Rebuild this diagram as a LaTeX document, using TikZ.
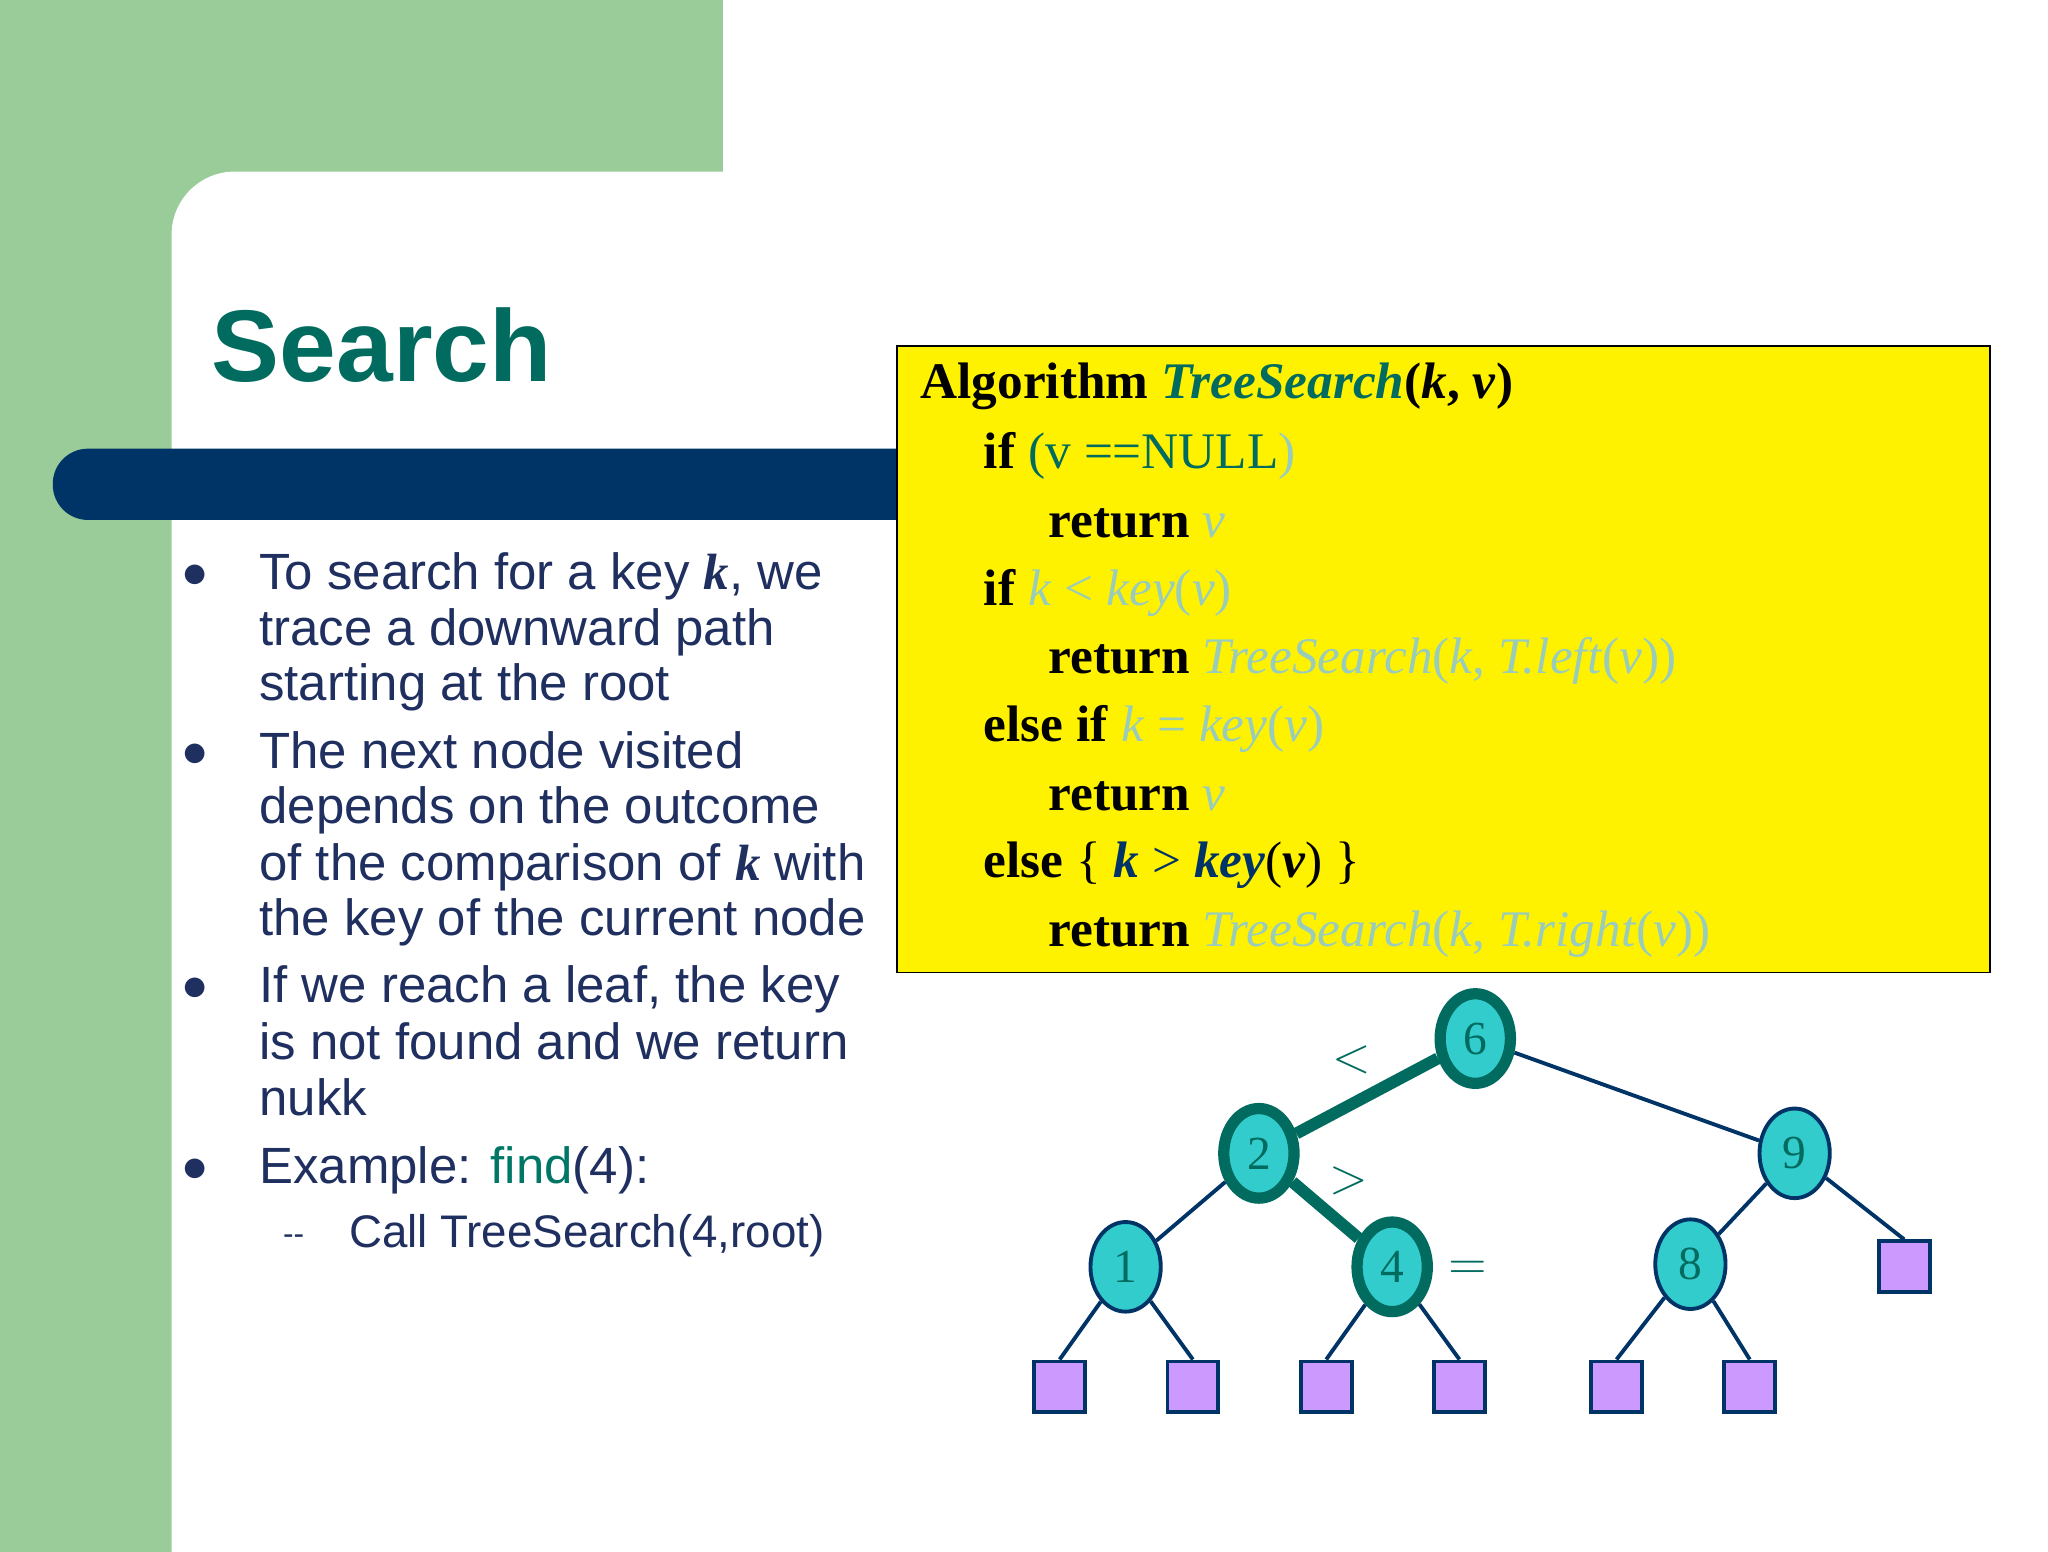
\documentclass[tikz,border=0pt]{standalone}
\usepackage{fontspec}
\setmainfont{Liberation Serif}
\newfontfamily\arialf{Liberation Sans}
\usetikzlibrary{shapes.geometric}
\definecolor{bggreen}{HTML}{99CC99}
\definecolor{navy}{HTML}{003366}
\definecolor{teal}{HTML}{006B5E}
\definecolor{txtblue}{HTML}{1F2F5F}
\definecolor{faded}{HTML}{99CCBB}
\definecolor{tealg}{HTML}{007766}
\definecolor{nodefill}{HTML}{33CCCC}
\definecolor{leaffill}{HTML}{CC99FF}
\tikzset{
  btxt/.style={anchor=base west,inner sep=0pt,font=\arialf\fontsize{14.5}{16}\selectfont,text=txtblue},
  atxt/.style={anchor=base west,inner sep=0pt,font=\fontsize{14.6}{17}\selectfont},
  tnode/.style={ellipse,minimum width=20pt,minimum height=25.5pt,fill=nodefill,draw=navy,line width=1.1pt,font=\fontsize{13.5}{15}\selectfont,text=teal,inner sep=0pt},
  hnode/.style={tnode,draw=teal,line width=3.2pt},
  leaf/.style={rectangle,minimum width=14.5pt,minimum height=14.5pt,fill=leaffill,draw=navy,line width=1.1pt,inner sep=0pt},
  edge/.style={navy,line width=1.1pt},
  hedge/.style={teal,line width=3.4pt},
  cmp/.style={text=teal,font=\fontsize{13.5}{15}\selectfont,inner sep=0pt}
}
\begin{document}
\begin{tikzpicture}[x=0.013196cm,y=-0.013196cm]
\useasboundingbox (0,0) rectangle (1552,1176);
\fill[white] (0,0) rectangle (1552,1176);
\fill[bggreen] (0,0) rectangle (548,1176);
\fill[white] (130,1176) [rounded corners=18pt] -- (130,130) [sharp corners] -- (548,130) -- (548,1176) -- cycle;
% bar
\fill[navy,rounded corners=10pt] (40,340) rectangle (720,394);
% title
\node[anchor=base west,inner sep=0pt,font=\arialf\bfseries\fontsize{29}{32}\selectfont,text=teal] (title) at (160,289) {Search};
% bullets
\foreach \y in {447,582,760,897} \node[text=txtblue,font=\arialf\fontsize{14}{16}\selectfont,inner sep=0pt] at (148,\y-10) {$\bullet$};
\node[btxt] (b1a) at (196,447) {To search for a key {\rmfamily\bfseries\itshape k}, we};
\node[btxt] (b1b) at (196,489) {trace a downward path};
\node[btxt] (b1c) at (196,531) {starting at the root};
\node[btxt] (b2a) at (196,582) {The next node visited};
\node[btxt] (b2b) at (196,624) {depends on the outcome};
\node[btxt] (b2c) at (196,667) {of the comparison of {\rmfamily\bfseries\itshape k} with};
\node[btxt] (b2d) at (196,709) {the key of the current node};
\node[btxt] (b3a) at (196,760) {If we reach a leaf, the key};
\node[btxt] (b3b) at (196,803) {is not found and we return};
\node[btxt] (b3c) at (196,845) {nukk};
\node[btxt] (b4) at (196,897) {Example: \textcolor{tealg}{find}(4):};
\node[btxt,font=\arialf\fontsize{9}{10}\selectfont] (dash) at (214,943) {--};
\node[btxt,font=\arialf\fontsize{13}{15}\selectfont] (b5) at (264,945) {Call TreeSearch(4,root)};
% algorithm box
\draw[fill=yellow,line width=0.5pt] (680,262) rectangle (1508,737);
\node[atxt] (l1) at (697,302) {\textbf{Algorithm} \textcolor{teal}{\textbf{\textit{TreeSearch}}}\textbf{(\textit{k}, \textit{v})}};
\node[atxt] (l2) at (745,355) {\textbf{if} \textcolor{teal}{(v ==NULL}\textcolor{faded}{)}};
\node[atxt] (l3) at (794,407) {\textbf{return} \textcolor{faded}{\textit{v}}};
\node[atxt] (l4) at (745,459) {\textbf{if} \textcolor{faded}{\textit{k} < \textit{key}(\textit{v})}};
\node[atxt] (l5) at (794,510) {\textbf{return} \textcolor{faded}{\textit{TreeSearch}(\textit{k}, \textit{T.left}(\textit{v}))}};
\node[atxt] (l6) at (745,562) {\textbf{else if} \textcolor{faded}{\textit{k} = \textit{key}(\textit{v})}};
\node[atxt] (l7) at (794,614) {\textbf{return} \textcolor{faded}{\textit{v}}};
\node[atxt] (l8) at (745,665) {\textbf{else} \{ \textcolor{navy}{\textbf{\textit{k}} > \textbf{\textit{key}}}(\textbf{\textit{v}}) \}};
\node[atxt] (l9) at (794,717) {\textbf{return} \textcolor{faded}{\textit{TreeSearch}(\textit{k}, \textit{T.right}(\textit{v}))}};
% tree edges first
\coordinate (c6) at (1118,787);
\node[hnode] (n6) at (1118,787) {6};
\node[hnode] (n2) at (954,874) {2};
\node[tnode] (n9) at (1360,874) {9};
\node[tnode] (n1) at (853,960) {1};
\node[hnode] (n4) at (1055,960) {4};
\node[tnode] (n8) at (1281,958) {8};
\node[leaf] (a) at (803,1051) {};
\node[leaf] (b) at (904,1051) {};
\node[leaf] (c) at (1005,1051) {};
\node[leaf] (d) at (1106,1051) {};
\node[leaf] (e) at (1225,1051) {};
\node[leaf] (f) at (1326,1051) {};
\node[leaf] (g) at (1443,960) {};
\draw[hedge] (n6) -- (n2);
\draw[hedge] (n2) -- (n4);
\draw[edge] (n6) -- (n9);
\draw[edge] (n2) -- (n1);
\draw[edge] (n1) -- (a.north);
\draw[edge] (n1) -- (b.north);
\draw[edge] (n4) -- (c.north);
\draw[edge] (n4) -- (d.north);
\draw[edge] (n9) -- (n8);
\draw[edge] (n9) -- (g.north);
\draw[edge] (n8) -- (e.north);
\draw[edge] (n8) -- (f.north);
\node[cmp] (lt) at (1024,803) {$<$};
\node[cmp] (gt) at (1022,895) {$>$};
\node[cmp] (eq) at (1112,963) {$=$};
\end{tikzpicture}
\end{document}
